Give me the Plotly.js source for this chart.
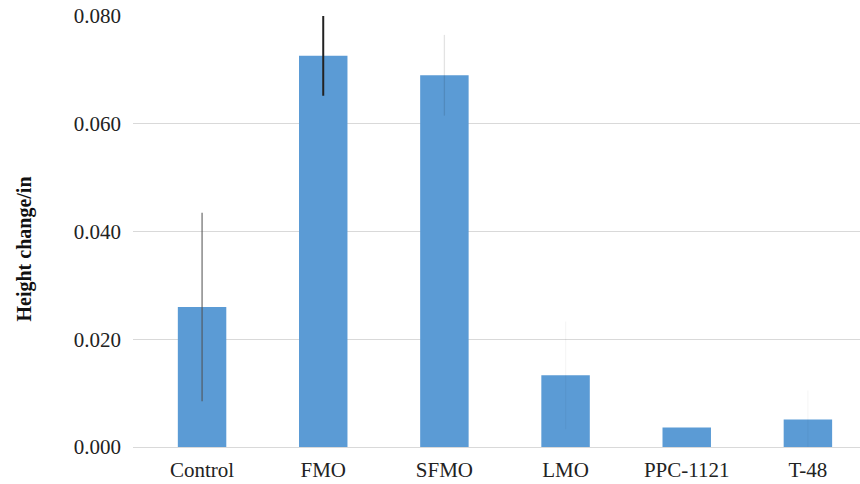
<!DOCTYPE html>
<html>
<head>
<meta charset="utf-8">
<script src="https://cdn.plot.ly/plotly-3.0.1.min.js"></script>
<style>html,body{margin:0;padding:0;background:#fff;}#chart{width:860px;height:484px;}</style>
</head>
<body>
<div id="chart"></div>
<script>
var categories = ["Control", "FMO", "SFMO", "LMO", "PPC-1121", "T-48"];
var heightChange = [0.0260, 0.0726, 0.0690, 0.0133, 0.0036, 0.0051];
var errorValues = [0.0175, 0.0074, 0.0075, 0.0100, 0.0, 0.0054];
var yTickValues = [0, 0.02, 0.04, 0.06, 0.08];
var yTickLabels = ["0.000", "0.020", "0.040", "0.060", "0.080"];

var errorColors = ["rgba(80,80,80,0.85)", "#222222", "rgba(0,0,0,0.11)", "rgba(0,0,0,0.035)", "rgba(0,0,0,0)", "rgba(0,0,0,0.03)"];
var errorThickness = [1.2, 2, 1.3, 1.3, 0, 1.3];

var traces = categories.map(function (c, i) {
  return {
    type: "bar",
    x: [c],
    y: [heightChange[i]],
    width: 0.4,
    marker: {color: "#5b9bd5", line: {width: 0}},
    error_y: {type: "data", array: [errorValues[i]], visible: errorValues[i] > 0,
              color: errorColors[i], thickness: errorThickness[i], width: 0},
    showlegend: false,
    hoverinfo: "x+y"
  };
});

var layout = {
  width: 860, height: 484,
  margin: {l: 133, r: 0, t: 16, b: 37},
  paper_bgcolor: "#ffffff", plot_bgcolor: "#ffffff",
  barmode: "overlay",
  font: {family: "Liberation Serif, Times New Roman, serif", color: "#222222"},
  xaxis: {
    type: "category", categoryorder: "array", categoryarray: categories,
    range: [-0.57, 5.43],
    showgrid: false, zeroline: false,
    showline: false, ticks: "",
    tickfont: {size: 21, family: "Liberation Serif, serif", color: "#222222"},
    ticklabelstandoff: 8
  },
  yaxis: {
    range: [0, 0.08],
    tickvals: yTickValues, ticktext: yTickLabels,
    showgrid: true, gridcolor: "#d9d9d9", gridwidth: 1,
    zeroline: true, zerolinecolor: "#d9d9d9", zerolinewidth: 1,
    showline: false, ticks: "",
    tickfont: {size: 21, family: "Liberation Serif, serif", color: "#222222"},
    ticklabelstandoff: 11,
    title: {text: "<b>Height change/in&nbsp;&nbsp;&nbsp;&nbsp;&nbsp;&nbsp;&nbsp;</b>", font: {size: 20, family: "Liberation Serif, serif", color: "#111111"}, standoff: 36}
  }
};

Plotly.newPlot("chart", traces, layout, {displayModeBar: false, staticPlot: true});
</script>
</body>
</html>
